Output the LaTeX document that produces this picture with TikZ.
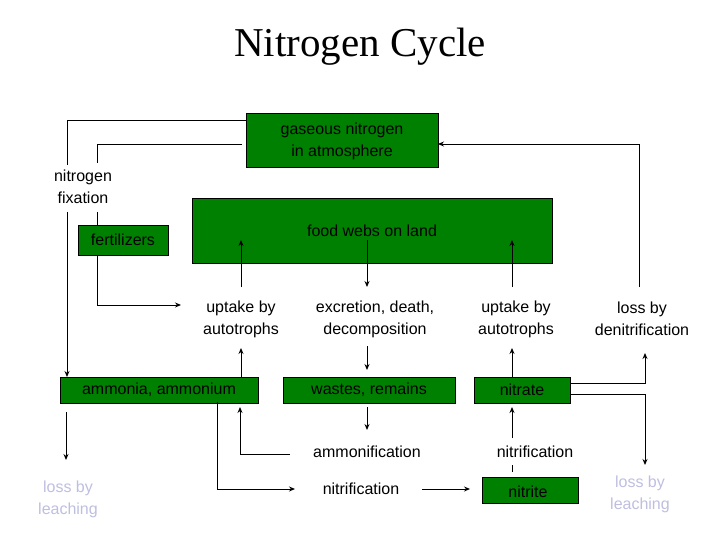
\documentclass[tikz,border=0pt]{standalone}
\usepackage{fontspec}
\setmainfont{Liberation Sans}
\newfontfamily\titlefont{Liberation Serif}
\usetikzlibrary{arrows.meta}
\definecolor{boxgreen}{RGB}{0,128,0}
\definecolor{leach}{RGB}{190,190,225}
\begin{document}
\begin{tikzpicture}[x=1pt,y=-1pt,
  box/.style={draw=black,fill=boxgreen,inner sep=0pt,anchor=north west},
  lbl/.style={align=center,font=\fontsize{16}{22}\selectfont},
  ln/.style={line width=0.9pt},
  ar/.style={ln,-{Stealth[length=6pt,width=5pt]}}]
\useasboundingbox (0,0) rectangle (720,540);
\node[font=\titlefont\fontsize{41}{46}\selectfont] (title) at (360,47) {Nitrogen Cycle};
% boxes
\node[box,minimum width=192,minimum height=54] (gas) at (246,113) {};
\node[lbl] (gast) at (342,141) {gaseous nitrogen\\in atmosphere};
\node[box,minimum width=360,minimum height=65] (food) at (192,198) {};
\node[lbl] (foodt) at (372,231) {food webs on land};
\node[box,minimum width=90,minimum height=30] (fert) at (78,225) {};
\node[lbl] (fertt) at (123,240) {fertilizers};
\node[box,minimum width=198,minimum height=26] (amm) at (60,377) {};
\node[lbl] (ammt) at (159,390) {ammonia, ammonium};
\node[box,minimum width=172,minimum height=26] (was) at (283,377) {};
\node[lbl] (wast) at (369,390) {wastes, remains};
\node[box,minimum width=96,minimum height=26] (nra) at (474,377) {};
\node[lbl] (nrat) at (522,390) {nitrate};
\node[box,minimum width=96,minimum height=26] (nri) at (482,477) {};
\node[lbl] (nrit) at (528,492) {nitrite};
% labels
\node[lbl] (fix) at (83,187) {nitrogen\\fixation};
\node[lbl] (up1) at (241,319) {uptake by\\autotrophs};
\node[lbl] (exc) at (375,319) {excretion, death,\\decomposition};
\node[lbl] (up2) at (516,319) {uptake by\\autotrophs};
\node[lbl] (den) at (642,319) {loss by\\denitrification};
\node[lbl] (amf) at (367,452) {ammonification};
\node[lbl] (nif1) at (535,452) {nitrification};
\node[lbl] (nif2) at (361,489) {nitrification};
\node[lbl,text=leach] (lch1) at (68,499) {loss by\\leaching};
\node[lbl,text=leach] (lch2) at (640,494) {loss by\\leaching};
% coordinates
\coordinate (g1) at (246,120); \coordinate (g2) at (242,144);
% nitrogen fixation
\draw[ln] (g1) -| (67,165);
\draw[ar] (67,212) -- (67,377);
\draw[ln] (g2) -| (97,163);
\draw[ln] (97,212) -- (97,225);
\draw[ar] (97,255) |- (181,305);
% food web links
\draw[ar] (241,287) -- (241,240);
\draw[ar] (367,240) -- (367,287);
\draw[ar] (512,287) -- (512,240);
\draw[ar] (639,287) |- (438,144);
% lower links
\draw[ar] (241,377) -- (241,348);
\draw[ar] (367,346) -- (367,370);
\draw[ar] (512,377) -- (512,348);
\draw[ar] (570,383) -| (645,353);
\draw[ar] (570,394) -| (645,465);
\draw[ar] (66,412) -- (66,460);
\draw[ar] (367,407) -- (367,430);
\draw[ar] (290,454) -| (240,407);
\draw[ar] (217,402) |- (295,489);
\draw[ar] (422,489) -- (470,489);
\draw[ar] (512,438) -- (512,407);
\draw[ln] (512,465) -- (512,472);
\end{tikzpicture}
\end{document}
